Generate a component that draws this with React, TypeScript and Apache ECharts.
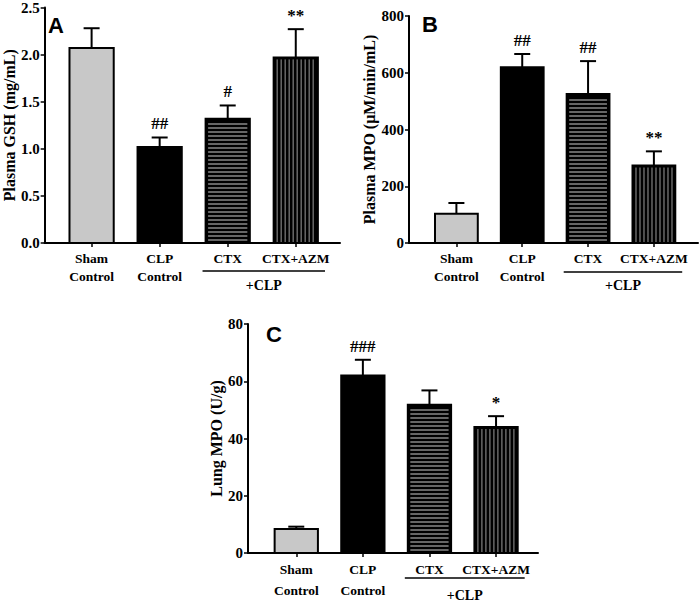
import React, { useEffect, useRef } from 'react';
import * as echarts from 'echarts';

// ---- data ----
const categories = ['Sham\nControl', 'CLP\nControl', 'CTX', 'CTX+AZM'];
const barStyles = ['gray', 'black', 'hstripe', 'vstripe'];

const gshMean = [2.07, 1.02, 1.32, 1.97];
const gshSem = [0.21, 0.10, 0.14, 0.30];
const gshSig = ['', '##', '#', '**'];

const plasmaMpoMean = [103, 619, 525, 273];
const plasmaMpoSem = [38, 47, 116, 50];
const plasmaMpoSig = ['', '##', '##', '**'];

const lungMpoMean = [8.4, 62.0, 51.8, 44.0];
const lungMpoSem = [0.8, 5.5, 5.0, 3.8];
const lungMpoSig = ['', '###', '', '*'];

const panelLetters = ['A', 'B', 'C'];
const yNames = ['Plasma GSH (mg/mL)', 'Plasma MPO (\u03bcM/min/mL)', 'Lung MPO (U/g)'];
const yMax = [2.5, 800, 80];
const yInterval = [0.5, 200, 20];
const yDecimals = [1, 0, 0];
const groupLabel = '+CLP';

const SERIF = '"Liberation Serif", "Times New Roman", serif';
const SANS = '"Liberation Sans", Arial, Helvetica, sans-serif';

const panels = [
  { mean: gshMean, sem: gshSem, sig: gshSig, grid: { left: 39, top: 6, width: 301, height: 237 }, xMin: -0.69, xMax: 3.65, nameGap: 23, lineH: 18, bracketOff: 28, clpOff: 42, letter: { x: 48, y: 25 } },
  { mean: plasmaMpoMean, sem: plasmaMpoSem, sig: plasmaMpoSig, grid: { left: 409, top: 16, width: 289, height: 227 }, xMin: -0.72, xMax: 3.67, nameGap: 25, lineH: 18, bracketOff: 29, clpOff: 42, letter: { x: 422, y: 24 } },
  { mean: lungMpoMean, sem: lungMpoSem, sig: lungMpoSig, grid: { left: 248, top: 324, width: 290, height: 229 }, xMin: -0.725, xMax: 3.63, nameGap: 19, lineH: 21, bracketOff: 25, clpOff: 42, letter: { x: 266, y: 334 } },
];

function makeRenderItem(sig: string[]) {
  return (params: any, api: any) => {
    const x = api.value(0);
    const m = api.value(1);
    const s = api.value(2);
    const style = barStyles[api.value(3)];
    const [cx, yTop] = api.coord([x, m]);
    const y0 = api.coord([x, 0])[1];
    const yErr = api.coord([x, m + s])[1];
    const w = api.size([1, 0])[0] * 0.65;
    const left = cx - w / 2;
    const right = cx + w / 2;
    const children: any[] = [];
    // error bar
    children.push({ type: 'line', shape: { x1: cx, y1: yTop, x2: cx, y2: yErr }, style: { stroke: '#000', lineWidth: 2 } });
    children.push({ type: 'line', shape: { x1: cx - 8, y1: yErr, x2: cx + 8, y2: yErr }, style: { stroke: '#000', lineWidth: 2 } });
    // bar
    const fill = style === 'gray' ? '#c8c8c8' : '#000';
    children.push({ type: 'rect', shape: { x: left, y: yTop, width: w, height: y0 - yTop }, style: { fill, stroke: '#000', lineWidth: 2 } });
    if (style === 'hstripe') {
      for (let yy = y0 - 3; yy > yTop + 2.5; yy -= 4) {
        children.push({ type: 'line', shape: { x1: left + 2.5, y1: yy, x2: right - 2.5, y2: yy }, style: { stroke: '#cccccc', lineWidth: 1 } });
      }
    } else if (style === 'vstripe') {
      for (let xx = left + 3.5; xx < right - 2.5; xx += 4) {
        children.push({ type: 'line', shape: { x1: xx, y1: yTop + 2, x2: xx, y2: y0 - 1 }, style: { stroke: '#9a9a9a', lineWidth: 1 } });
      }
    }
    const label = sig[params.dataIndex];
    if (label) {
      children.push({
        type: 'text',
        x: cx,
        y: yErr - 5,
        style: { text: label, fill: '#000', font: `bold 17px ${SERIF}`, align: 'center', verticalAlign: 'bottom' },
      });
    }
    return { type: 'group', children };
  };
}

export default function App() {
  const ref = useRef<HTMLDivElement>(null);
  useEffect(() => {
    if (!ref.current) return;
    const chart = echarts.init(ref.current, undefined, { renderer: 'svg' });
    const option: any = {
      animation: false,
      backgroundColor: '#fff',
      grid: panels.map((p) => ({ ...p.grid, containLabel: false })),
      xAxis: panels.map((p, i) => ({
        type: 'value',
        gridIndex: i,
        min: p.xMin,
        max: p.xMax,
        splitLine: { show: false },
        axisLine: { show: true, onZero: false, lineStyle: { color: '#000', width: 2 } },
        axisTick: { show: true, customValues: [0, 1, 2, 3], length: 4, lineStyle: { color: '#000', width: 1.5 } },
        axisLabel: {
          show: true,
          customValues: [0, 1, 2, 3],
          formatter: (v: number) => categories[Math.round(v)] ?? '',
          color: '#000',
          fontFamily: SERIF,
          fontWeight: 'bold',
          fontSize: 13.5,
          lineHeight: p.lineH,
          margin: 6,
        },
      })),
      yAxis: panels.map((p, i) => ({
        type: 'value',
        gridIndex: i,
        min: 0,
        max: yMax[i],
        interval: yInterval[i],
        splitLine: { show: false },
        axisLine: { show: true, onZero: false, lineStyle: { color: '#000', width: 2 } },
        axisTick: { show: true, length: 4, lineStyle: { color: '#000', width: 1.5 } },
        axisLabel: {
          color: '#000',
          fontFamily: SERIF,
          fontWeight: 'bold',
          fontSize: 15,
          margin: 5,
          formatter: (v: number) => v.toFixed(yDecimals[i]),
        },
        name: yNames[i],
        nameLocation: 'middle',
        nameRotate: 90,
        nameGap: p.nameGap,
        nameTextStyle: { color: '#000', fontFamily: SERIF, fontWeight: 'bold', fontSize: 16 },
      })),
      series: panels.map((p, i) => ({
        type: 'custom',
        xAxisIndex: i,
        yAxisIndex: i,
        clip: false,
        encode: { x: 0, y: 1 },
        renderItem: makeRenderItem(p.sig),
        data: categories.map((_, k) => [k, p.mean[k], p.sem[k], k]),
      })),
    };
    chart.setOption(option);

    const graphic: any[] = [];
    panels.forEach((p, i) => {
      const y0 = chart.convertToPixel({ yAxisIndex: i } as any, 0) as number;
      const x1 = chart.convertToPixel({ xAxisIndex: i } as any, 1.63) as number;
      const x2 = chart.convertToPixel({ xAxisIndex: i } as any, 3.43) as number;
      const xc = chart.convertToPixel({ xAxisIndex: i } as any, 2.53) as number;
      graphic.push({ type: 'line', shape: { x1, y1: y0 + p.bracketOff, x2, y2: y0 + p.bracketOff }, style: { stroke: '#000', lineWidth: 1.6 } });
      graphic.push({ type: 'text', x: xc, y: y0 + p.clpOff, style: { text: groupLabel, fill: '#000', font: `bold 14px ${SERIF}`, align: 'center', verticalAlign: 'middle' } });
      graphic.push({ type: 'text', x: p.letter.x, y: p.letter.y, style: { text: panelLetters[i], fill: '#000', font: `bold 22px ${SANS}`, align: 'left', verticalAlign: 'middle' } });
    });
    chart.setOption({ graphic });

    return () => chart.dispose();
  }, []);
  return <div ref={ref} style={{ position: 'fixed', left: 0, top: 0, width: 700, height: 604, background: '#fff' }} />;
}
